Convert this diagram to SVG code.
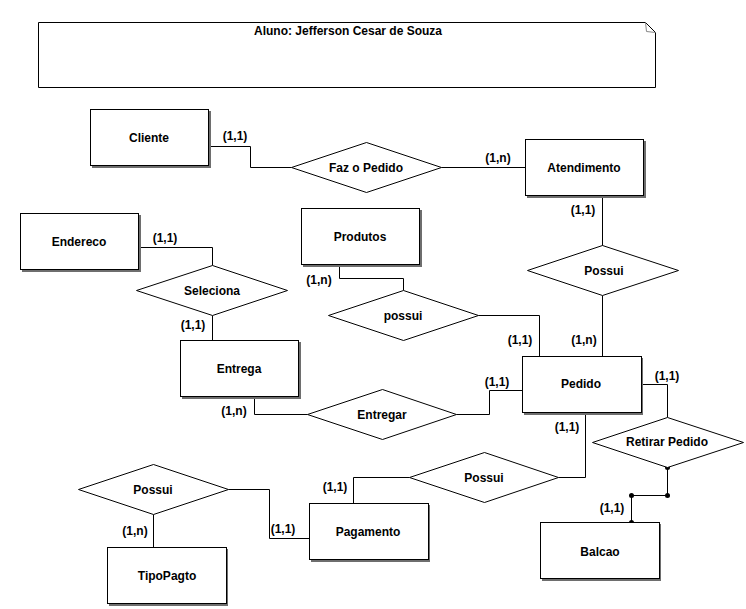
<svg xmlns="http://www.w3.org/2000/svg" width="746" height="609" viewBox="0 0 746 609">
<style>
  text { font-family: "Liberation Sans", Arial, sans-serif; font-weight: bold; font-size: 12px; fill: #000; }
  .ctr { text-anchor: middle; }
  .ent .sh { fill: #6e6e6e; stroke: none; }
  .ent .box { fill: #fff; stroke: #000; stroke-width: 1; }
  .rel polygon { fill: #fff; stroke: #000; stroke-width: 1; }
  #connectors path { fill: none; stroke: #000; stroke-width: 1; }
  #connectors circle { fill: #000; }
  .note { fill: #fff; stroke: #000; stroke-width: 1; }
  .fold { fill: none; stroke: #888; stroke-width: 1; }
</style>
<rect x="0" y="0" width="746" height="609" fill="#fff"/>

<g id="note">
  <path class="note" d="M38.5,22.5 H645.5 L655.5,32.5 V87.5 H38.5 Z"/>
  <path class="fold" d="M645.5,22.5 L646.5,31.5 L655.5,32.5"/>
  <text class="ctr" x="348" y="35">Aluno: Jefferson Cesar de Souza</text>
</g>

<g id="connectors" transform="translate(0.5,0.5)">
  <path d="M208,146 H250 V167 H291"/>
  <path d="M441,167 H525"/>
  <path d="M602,195 V246"/>
  <path d="M602,295 V356"/>
  <path d="M138,247 H212 V265"/>
  <path d="M212,315 V340"/>
  <path d="M339,265 V278 H403 V290"/>
  <path d="M478,315 H539 V356"/>
  <path d="M254,397 V414 H307"/>
  <path d="M456,414 H489 V390 H522"/>
  <path d="M641,384 H667 V417"/>
  <path d="M667,467 V495 H631 V522"/>
  <circle cx="667" cy="467" r="2.5"/>
  <circle cx="667" cy="495" r="2.5"/>
  <circle cx="631" cy="495" r="2.5"/>
  <circle cx="631" cy="522" r="2.5"/>
  <path d="M585,413 V477 H558"/>
  <path d="M409,477 H353 V503"/>
  <path d="M228,489 H269 V538 H309"/>
  <path d="M153,514 V547"/>
</g>

<g id="cardinalities">
  <text class="ctr" x="235" y="140">(1,1)</text>
  <text class="ctr" x="498" y="162">(1,n)</text>
  <text class="ctr" x="583" y="214">(1,1)</text>
  <text class="ctr" x="584" y="344">(1,n)</text>
  <text class="ctr" x="165" y="242">(1,1)</text>
  <text class="ctr" x="193" y="329">(1,1)</text>
  <text class="ctr" x="319" y="284">(1,n)</text>
  <text class="ctr" x="520" y="344">(1,1)</text>
  <text class="ctr" x="234" y="415">(1,n)</text>
  <text class="ctr" x="497" y="386">(1,1)</text>
  <text class="ctr" x="667" y="380">(1,1)</text>
  <text class="ctr" x="612" y="512">(1,1)</text>
  <text class="ctr" x="567" y="431">(1,1)</text>
  <text class="ctr" x="335" y="491">(1,1)</text>
  <text class="ctr" x="283" y="533">(1,1)</text>
  <text class="ctr" x="135" y="535">(1,n)</text>
</g>

<g id="cliente" class="ent">
  <rect class="sh" x="92" y="111" width="119" height="57"/>
  <rect class="box" x="90.5" y="109.5" width="118" height="56"/>
  <text class="ctr" x="149" y="142">Cliente</text>
</g>
<g id="atendimento" class="ent">
  <rect class="sh" x="527" y="141" width="119" height="57"/>
  <rect class="box" x="525.5" y="139.5" width="118" height="56"/>
  <text class="ctr" x="584" y="172">Atendimento</text>
</g>
<g id="endereco" class="ent">
  <rect class="sh" x="22" y="215" width="119" height="57"/>
  <rect class="box" x="20.5" y="213.5" width="118" height="56"/>
  <text class="ctr" x="79" y="246">Endereco</text>
</g>
<g id="produtos" class="ent">
  <rect class="sh" x="303" y="210" width="119" height="57"/>
  <rect class="box" x="301.5" y="208.5" width="118" height="56"/>
  <text class="ctr" x="360" y="241">Produtos</text>
</g>
<g id="entrega" class="ent">
  <rect class="sh" x="182" y="342" width="119" height="57"/>
  <rect class="box" x="180.5" y="340.5" width="118" height="56"/>
  <text class="ctr" x="239" y="373">Entrega</text>
</g>
<g id="pedido" class="ent">
  <rect class="sh" x="524" y="358" width="119" height="57"/>
  <rect class="box" x="522.5" y="356.5" width="119" height="56"/>
  <text class="ctr" x="581" y="388">Pedido</text>
</g>
<g id="pagamento" class="ent">
  <rect class="sh" x="311" y="505" width="119" height="57"/>
  <rect class="box" x="309.5" y="503.5" width="119" height="56"/>
  <text class="ctr" x="368" y="536">Pagamento</text>
</g>
<g id="balcao" class="ent">
  <rect class="sh" x="542" y="524" width="119" height="57"/>
  <rect class="box" x="540.5" y="522.5" width="119" height="56"/>
  <text class="ctr" x="600" y="556">Balcao</text>
</g>
<g id="tipopagto" class="ent">
  <rect class="sh" x="109" y="549" width="119" height="57"/>
  <rect class="box" x="107.5" y="547.5" width="119" height="56"/>
  <text class="ctr" x="167" y="580">TipoPagto</text>
</g>

<g id="faz-o-pedido" class="rel">
  <polygon points="291.5,167.5 366.5,142.5 441.5,167.5 366.5,192.5"/>
  <text class="ctr" x="366" y="172">Faz o Pedido</text>
</g>
<g id="possui-atendimento" class="rel">
  <polygon points="527.5,270.5 602.5,245.5 678.5,270.5 602.5,295.5"/>
  <text class="ctr" x="604" y="275">Possui</text>
</g>
<g id="seleciona" class="rel">
  <polygon points="136.5,290.5 212.5,265.5 287.5,290.5 212.5,315.5"/>
  <text class="ctr" x="212" y="295">Seleciona</text>
</g>
<g id="possui-produtos" class="rel">
  <polygon points="328.5,315.5 403.5,290.5 478.5,315.5 403.5,340.5"/>
  <text class="ctr" x="403" y="320">possui</text>
</g>
<g id="entregar" class="rel">
  <polygon points="307.5,414.5 382.5,389.5 456.5,414.5 382.5,439.5"/>
  <text class="ctr" x="382" y="419">Entregar</text>
</g>
<g id="retirar-pedido" class="rel">
  <polygon points="592.5,442.5 667.5,417.5 743.5,442.5 667.5,467.5"/>
  <text class="ctr" x="667" y="446">Retirar Pedido</text>
</g>
<g id="possui-pagamento" class="rel">
  <polygon points="409.5,477.5 484.5,452.5 558.5,477.5 484.5,502.5"/>
  <text class="ctr" x="484" y="482">Possui</text>
</g>
<g id="possui-tipopagto" class="rel">
  <polygon points="78.5,489.5 153.5,464.5 228.5,489.5 153.5,514.5"/>
  <text class="ctr" x="153" y="494">Possui</text>
</g>
</svg>
